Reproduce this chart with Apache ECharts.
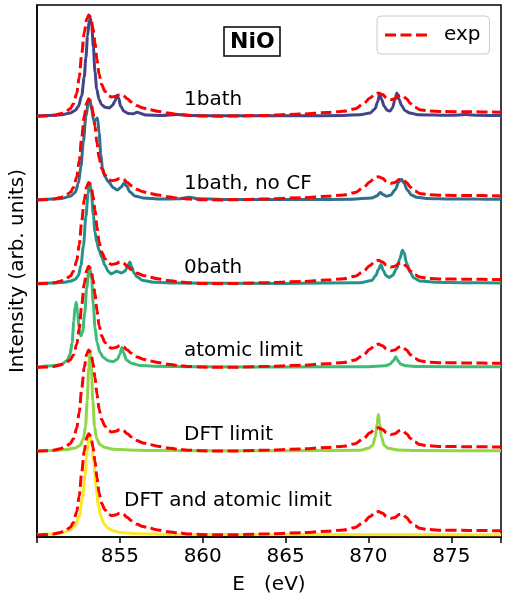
<!DOCTYPE html>
<html>
<head>
<meta charset="utf-8">
<script src="https://cdn.jsdelivr.net/npm/echarts@6/dist/echarts.min.js"></script>
<style>
  html, body { margin: 0; padding: 0; background: #fff; }
  #main { width: 507px; height: 600px; }
</style>
</head>
<body>
<div id="main"></div>
<script>
// experiment, same curve repeated under every calculation
var expE = [850, 850.5, 851, 851.4, 851.7, 852.0, 852.2, 852.4, 852.55, 852.7, 852.85, 853.0, 853.12, 853.25, 853.38, 853.5, 853.62, 853.75, 853.9, 854.1, 854.3, 854.5, 854.75, 855.0, 855.2, 855.45, 855.7, 856.0, 856.4, 856.8, 857.3, 857.9, 858.5, 859.2, 860, 861, 862, 864, 866, 867.5, 868.5, 869.2, 869.7, 870.1, 870.4, 870.6, 870.85, 871.1, 871.35, 871.6, 871.85, 872.05, 872.3, 872.55, 872.8, 873.1, 873.6, 874.5, 876, 878];
var expI = [0.0, 0.005, 0.012, 0.03, 0.05, 0.09, 0.15, 0.28, 0.47, 0.75, 1.0, 1.16, 1.21, 1.18, 1.05, 0.88, 0.68, 0.5, 0.38, 0.3, 0.25, 0.23, 0.24, 0.26, 0.25, 0.21, 0.17, 0.13, 0.1, 0.08, 0.06, 0.04, 0.025, 0.012, 0.005, 0.002, 0.004, 0.014, 0.028, 0.045, 0.06, 0.09, 0.15, 0.22, 0.27, 0.28, 0.26, 0.22, 0.2, 0.21, 0.245, 0.25, 0.21, 0.15, 0.11, 0.08, 0.065, 0.057, 0.055, 0.05];

// calculations [E, I]
var th1bath = [[850,0.005],[851,0.012],[851.5,0.02],[852.0,0.04],[852.3,0.07],[852.5,0.12],[852.7,0.25],[852.85,0.47],[852.95,0.7],[853.05,0.96],[853.15,1.14],[853.22,1.17],[853.3,1.09],[853.4,0.83],[853.5,0.53],[853.6,0.33],[853.75,0.2],[853.9,0.14],[854.1,0.11],[854.35,0.1],[854.55,0.13],[854.7,0.18],[854.82,0.25],[854.92,0.22],[855.05,0.12],[855.25,0.06],[855.5,0.035],[855.8,0.03],[856.05,0.05],[856.25,0.035],[856.6,0.015],[857.5,0.01],[858.5,0.022],[859.2,0.01],[862,0.006],[866,0.006],[868.5,0.01],[869.5,0.02],[870.1,0.04],[870.4,0.09],[870.55,0.17],[870.68,0.27],[870.8,0.2],[870.95,0.12],[871.15,0.07],[871.3,0.065],[871.45,0.1],[871.6,0.2],[871.72,0.28],[871.85,0.2],[872.0,0.13],[872.2,0.07],[872.5,0.04],[873,0.02],[875,0.012],[875.9,0.022],[876.6,0.012],[878,0.01]];
var th1bathNoCF = [[850,0.005],[851,0.012],[851.5,0.02],[852.0,0.045],[852.3,0.09],[852.5,0.2],[852.65,0.4],[852.8,0.7],[852.95,1.0],[853.1,1.17],[853.2,1.19],[853.3,1.08],[853.42,0.95],[853.55,0.96],[853.65,0.98],[853.75,0.8],[853.85,0.55],[853.95,0.38],[854.1,0.28],[854.3,0.22],[854.6,0.15],[854.85,0.12],[855.05,0.15],[855.25,0.2],[855.4,0.17],[855.6,0.1],[855.9,0.05],[856.4,0.025],[857.5,0.012],[858.6,0.015],[859.2,0.035],[859.7,0.015],[862,0.006],[866,0.006],[869,0.01],[870.2,0.025],[870.5,0.05],[870.72,0.09],[870.9,0.065],[871.1,0.045],[871.35,0.06],[871.6,0.12],[871.85,0.22],[872.0,0.25],[872.15,0.2],[872.35,0.12],[872.6,0.06],[872.9,0.035],[873.5,0.02],[875,0.014],[876.5,0.012],[878,0.01]];
var th0bath = [[850,0.005],[851,0.01],[851.5,0.015],[852.0,0.03],[852.3,0.05],[852.5,0.1],[852.65,0.22],[852.8,0.45],[852.95,0.8],[853.08,1.08],[853.18,1.2],[853.28,1.1],[853.4,0.82],[853.5,0.62],[853.6,0.5],[853.75,0.4],[853.9,0.32],[854.1,0.22],[854.3,0.15],[854.45,0.12],[854.6,0.13],[854.8,0.15],[854.95,0.14],[855.1,0.13],[855.3,0.15],[855.45,0.2],[855.6,0.26],[855.72,0.2],[855.85,0.13],[856.05,0.08],[856.4,0.04],[857,0.02],[858,0.01],[865,0.005],[869.5,0.012],[870.2,0.04],[870.45,0.1],[870.6,0.17],[870.75,0.23],[870.9,0.16],[871.05,0.1],[871.25,0.075],[871.45,0.1],[871.7,0.18],[871.9,0.3],[872.05,0.4],[872.15,0.37],[872.3,0.25],[872.5,0.14],[872.75,0.07],[873.1,0.035],[874,0.018],[876,0.012],[878,0.01]];
var thAtomic = [[850,0.005],[851,0.02],[851.5,0.04],[851.8,0.08],[852.0,0.16],[852.12,0.3],[852.22,0.55],[852.3,0.73],[852.37,0.78],[852.45,0.65],[852.55,0.46],[852.65,0.38],[852.75,0.42],[852.88,0.65],[853.0,0.95],[853.12,1.15],[853.2,1.18],[853.3,1.05],[853.4,0.75],[853.5,0.48],[853.62,0.3],[853.8,0.18],[854.0,0.12],[854.3,0.08],[854.6,0.07],[854.85,0.1],[855.0,0.16],[855.12,0.24],[855.22,0.18],[855.4,0.09],[855.7,0.05],[856.2,0.025],[857,0.015],[860,0.008],[865,0.006],[870,0.01],[871.0,0.02],[871.3,0.04],[871.5,0.08],[871.65,0.13],[871.78,0.08],[871.95,0.04],[872.3,0.02],[873,0.012],[878,0.008]];
var thDFT = [[850,0.005],[851,0.01],[851.8,0.02],[852.3,0.04],[852.6,0.07],[852.8,0.15],[852.93,0.3],[853.03,0.6],[853.12,1.0],[853.2,1.19],[853.28,1.0],[853.37,0.6],[853.47,0.3],[853.6,0.15],[853.8,0.08],[854.1,0.045],[854.6,0.025],[855.5,0.015],[857,0.008],[865,0.006],[869.5,0.012],[870.0,0.035],[870.25,0.07],[870.42,0.17],[870.52,0.33],[870.6,0.44],[870.68,0.33],[870.78,0.17],[870.95,0.07],[871.2,0.035],[871.8,0.015],[873,0.008],[878,0.005]];
var thDFTAtomic = [[850,0.005],[851,0.012],[851.6,0.03],[852.0,0.06],[852.3,0.11],[852.55,0.22],[852.75,0.45],[852.9,0.72],[853.03,1.0],[853.13,1.15],[853.2,1.18],[853.3,1.1],[853.42,0.88],[853.55,0.6],[853.7,0.36],[853.85,0.22],[854.05,0.13],[854.3,0.08],[854.6,0.05],[855.0,0.03],[856,0.015],[858,0.007],[878,0.003]];

var labels = ['1bath', '1bath, no CF', '0bath', 'atomic limit', 'DFT limit', 'DFT and atomic limit'];
var offsets = [5, 4, 3, 2, 1, 0];
var xTicks = [855, 860, 865, 870, 875];

var calcs = [th1bath, th1bathNoCF, th0bath, thAtomic, thDFT, thDFTAtomic];
var colors = ['#414487', '#2e6f8e', '#22958b', '#3dbc74', '#8fd744', '#fde725'];
// pixel spots of the annotations (left, middle)
var labelPos = [[184, 102], [184, 185.5], [184, 270], [184, 353], [184, 437], [124, 503]];

var FONT = 'DejaVu Sans';
var myChart = echarts.init(document.getElementById('main'));

var series = [];
calcs.forEach(function (pts, k) {
	var off = offsets[k];
	series.push({
		name: labels[k],
		type: 'line',
		data: pts.map(function (p) { return [p[0], p[1] + off]; }),
		smooth: 0.3,
		smoothMonotone: 'x',
		symbol: 'none',
		lineStyle: { color: colors[k], width: 3 },
		itemStyle: { color: colors[k] },
		z: 2,
		silent: true
	});
	series.push({
		name: 'exp',
		type: 'line',
		data: expE.map(function (e, i) { return [e, expI[i] + off]; }),
		smooth: 0.3,
		smoothMonotone: 'x',
		symbol: 'none',
		lineStyle: { color: '#ff0000', width: 3, type: [11, 4.5] },
		itemStyle: { color: '#ff0000' },
		z: 3,
		silent: true
	});
});

var graphics = labels.map(function (t, k) {
	return {
		type: 'text',
		left: labelPos[k][0],
		top: labelPos[k][1] - 12,
		style: { text: t, font: '20px "' + FONT + '"', fill: '#000' },
		z: 10
	};
});

var option = {
	animation: false,
	title: {
		text: 'NiO',
		left: 224,
		top: 27,
		padding: [4, 6, 3, 6],
		borderColor: '#000',
		borderWidth: 1.5,
		textStyle: { fontFamily: FONT, fontSize: 22, fontWeight: 'bold', color: '#000' }
	},
	legend: {
		data: [{
			name: 'exp',
			icon: 'path://M0,0h11v3h-11z M15.5,0h11v3h-11z M31,0h11v3h-11z'
		}],
		left: 377,
		top: 16,
		padding: [9, 9, 9, 8],
		itemWidth: 42,
		itemHeight: 3,
		borderColor: '#cccccc',
		borderWidth: 1,
		borderRadius: 4,
		backgroundColor: '#fff',
		textStyle: { fontFamily: FONT, fontSize: 20, color: '#000', padding: [0, 0, 0, 12] }
	},
	grid: {
		left: 34, right: 6, top: 5, bottom: 63,
		show: true, borderColor: '#000', borderWidth: 1.5
	},
	xAxis: {
		type: 'value',
		min: 850, max: 878, interval: 5,
		name: 'E   (eV)',
		nameLocation: 'middle',
		nameGap: 38,
		nameTextStyle: { fontFamily: FONT, fontSize: 20, color: '#000' },
		axisLine: { onZero: false, lineStyle: { color: '#000', width: 1.5 } },
		axisTick: { length: 6, lineStyle: { color: '#000', width: 1.5 } },
		axisLabel: {
			fontFamily: FONT, fontSize: 20, color: '#000', margin: 10,
			formatter: function (v) { return xTicks.indexOf(v) >= 0 ? String(v) : ''; }
		},
		splitLine: { show: false }
	},
	yAxis: {
		type: 'value',
		min: -0.024, max: 6.33,
		name: 'Intensity (arb. units)',
		nameLocation: 'middle',
		nameGap: 9,
		nameTextStyle: { fontFamily: FONT, fontSize: 20, color: '#000' },
		axisLine: { show: true, onZero: false, lineStyle: { color: '#000', width: 1.5 } },
		axisTick: { show: false },
		axisLabel: { show: false },
		splitLine: { show: false }
	},
	graphic: graphics,
	series: series
};
myChart.setOption(option);
</script>
</body>
</html>
